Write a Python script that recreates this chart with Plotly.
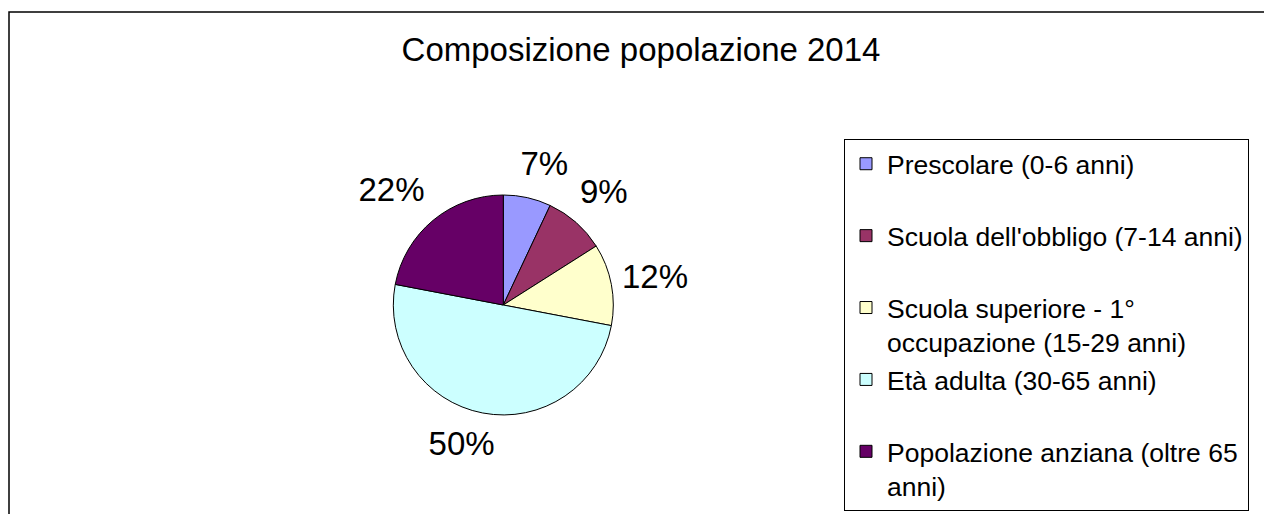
import plotly.graph_objects as go

# ---- data ----
categories = [
    "Prescolare (0-6 anni)",
    "Scuola dell'obbligo (7-14 anni)",
    "Scuola superiore - 1°<br>occupazione (15-29 anni)",
    "Età adulta (30-65 anni)",
    "Popolazione anziana (oltre 65<br>anni)",
]
values = [7, 9, 12, 50, 22]
colors = ["#9999FF", "#993366", "#FFFFCC", "#CCFFFF", "#660066"]
title_text = "Composizione popolazione 2014"

# ---- layout / style constants ----
W, H = 1264, 514
FONT = "Liberation Sans, Arial, sans-serif"
cx, cy, r = 503.3, 305.0, 110.0          # visible pie (px)
lab_r = 180.0                            # invisible label pies (px)
label_pull = [0.0, 0.062, 0.108, 0.056, 0.144]   # radial label offset
label_rot = [3.5, 0.0, 0.0, 5.9, -4.4]           # angular label offset (deg)


def dom(cx, cy, half):
    return dict(x=[(cx - half) / W, (cx + half) / W],
                y=[1 - (cy + half) / H, 1 - (cy - half) / H])


# legend text: single-line entries get a blank second line for spacing
legend_labels = [c if "<br>" in c else c + "<br> " for c in categories]
n = len(values)

fig = go.Figure()
fig.add_trace(go.Pie(
    labels=legend_labels, values=values, sort=False, direction="clockwise",
    rotation=0, textinfo="none", hoverinfo="label+percent",
    marker=dict(colors=colors, line=dict(color="black", width=1)),
    domain=dom(cx, cy, r), showlegend=True,
))

# percentage labels: one invisible pie per label, placed like Excel's data labels
for i in range(n):
    pull = [label_pull[i] if j == i else 0 for j in range(n)]
    fig.add_trace(go.Pie(
        labels=legend_labels, values=values, sort=False, direction="clockwise",
        rotation=label_rot[i], hole=0.5, pull=pull,
        texttemplate=["%{percent}" if j == i else "" for j in range(n)],
        textposition="inside", insidetextorientation="horizontal",
        insidetextfont=dict(family=FONT, size=33, color="black"),
        marker=dict(colors=["rgba(0,0,0,0)"] * n, line=dict(width=0)),
        domain=dom(cx, cy, lab_r * (1 + max(pull))),
        showlegend=False, hoverinfo="skip",
    ))

fig.update_layout(
    width=W, height=H, autosize=False,
    margin=dict(l=0, r=0, t=0, b=0),
    paper_bgcolor="white", plot_bgcolor="white",
    font=dict(family=FONT, color="black"),
    title=dict(text=title_text, font=dict(family=FONT, size=33, color="black"),
               x=641 / W, xanchor="center", y=1 - 49 / H, yanchor="middle",
               xref="paper", yref="container"),
    legend=dict(x=844 / W, xanchor="left", y=1 - 139 / H, yanchor="top",
                font=dict(family=FONT, size=26.5, color="black"),
                bgcolor="white", bordercolor="black", borderwidth=1,
                valign="top", itemwidth=32, traceorder="normal"),
    shapes=[dict(type="rect", xref="paper", yref="paper",
                 x0=9 / W, x1=1.05, y0=-0.05, y1=1 - 12 / H,
                 line=dict(color="black", width=1.5), fillcolor="rgba(0,0,0,0)",
                 layer="below")],
)

fig.write_html(
    "out.html",
    config={"displayModeBar": False},
    post_script="document.body.style.margin='0';document.body.style.overflow='hidden';",
)
